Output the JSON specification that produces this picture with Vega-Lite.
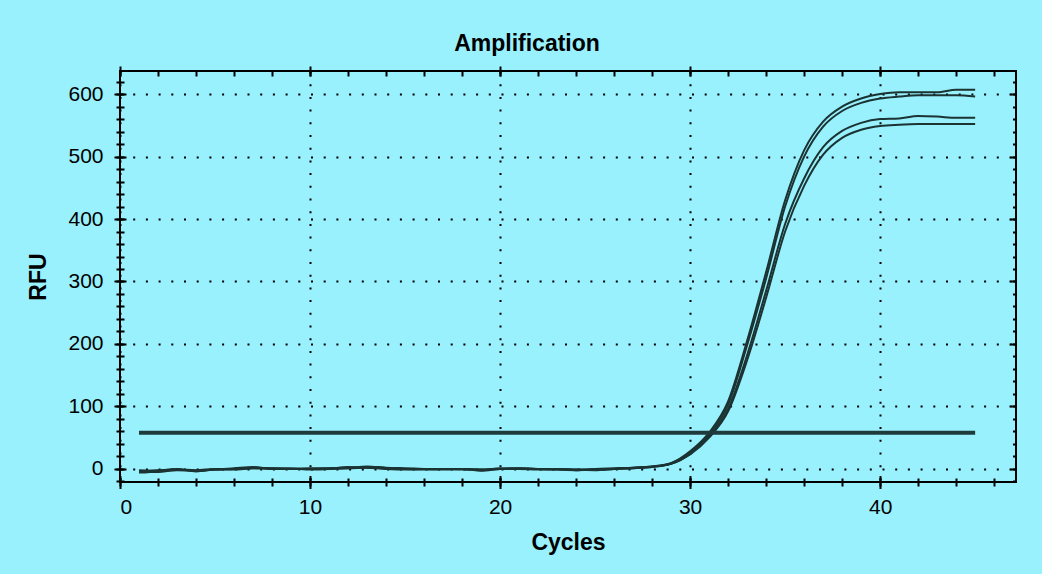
{
  "$schema": "https://vega.github.io/schema/vega-lite/v6.json",
  "autosize": {"type": "none"},
  "width": 896,
  "height": 411,
  "padding": {"left": 120, "top": 71, "right": 26, "bottom": 92},
  "background": "#98F1FD",
  "config": {
    "font": "Liberation Sans",
    "view": {"stroke": "#000000", "strokeWidth": 2, "fill": "#98F1FD"},
    "axis": {"domain": false, "tickColor": "#000000", "tickWidth": 2, "labelColor": "#000000", "titleColor": "#000000", "grid": false, "labels": false, "title": null}
  },
  "title": {"text": "Amplification", "font": "Liberation Sans", "fontSize": 23, "fontWeight": "bold", "color": "#000000", "anchor": "middle", "frame": "group", "dx": -41, "offset": 9},
  "datasets": {
    "curves": [
      {"c":1,"s":"A","v":-4},{"c":2,"s":"A","v":-2},{"c":3,"s":"A","v":-1},{"c":4,"s":"A","v":-3},{"c":5,"s":"A","v":-1},{"c":6,"s":"A","v":0},{"c":7,"s":"A","v":2},{"c":8,"s":"A","v":1},{"c":9,"s":"A","v":0},{"c":10,"s":"A","v":0},{"c":11,"s":"A","v":1},{"c":12,"s":"A","v":2},{"c":13,"s":"A","v":3},{"c":14,"s":"A","v":1},{"c":15,"s":"A","v":0},{"c":16,"s":"A","v":0},{"c":17,"s":"A","v":0},{"c":18,"s":"A","v":-1},{"c":19,"s":"A","v":-1},{"c":20,"s":"A","v":0},{"c":21,"s":"A","v":1},{"c":22,"s":"A","v":0},{"c":23,"s":"A","v":-1},{"c":24,"s":"A","v":-1},{"c":25,"s":"A","v":-1},{"c":26,"s":"A","v":0},{"c":27,"s":"A","v":1},{"c":28,"s":"A","v":3},{"c":29,"s":"A","v":9},{"c":30,"s":"A","v":28},{"c":31,"s":"A","v":58},{"c":32,"s":"A","v":108},{"c":33,"s":"A","v":205},{"c":34,"s":"A","v":315},{"c":35,"s":"A","v":430},{"c":36,"s":"A","v":510},{"c":37,"s":"A","v":556},{"c":38,"s":"A","v":580},{"c":39,"s":"A","v":593},{"c":40,"s":"A","v":600},{"c":41,"s":"A","v":603},{"c":42,"s":"A","v":603},{"c":43,"s":"A","v":603},{"c":44,"s":"A","v":607},{"c":45,"s":"A","v":607},
      {"c":1,"s":"B","v":-2},{"c":2,"s":"B","v":-3},{"c":3,"s":"B","v":0},{"c":4,"s":"B","v":-4},{"c":5,"s":"B","v":-1},{"c":6,"s":"B","v":1},{"c":7,"s":"B","v":3},{"c":8,"s":"B","v":0},{"c":9,"s":"B","v":0},{"c":10,"s":"B","v":1},{"c":11,"s":"B","v":0},{"c":12,"s":"B","v":1},{"c":13,"s":"B","v":4},{"c":14,"s":"B","v":2},{"c":15,"s":"B","v":1},{"c":16,"s":"B","v":0},{"c":17,"s":"B","v":-1},{"c":18,"s":"B","v":0},{"c":19,"s":"B","v":-2},{"c":20,"s":"B","v":1},{"c":21,"s":"B","v":0},{"c":22,"s":"B","v":0},{"c":23,"s":"B","v":-1},{"c":24,"s":"B","v":-2},{"c":25,"s":"B","v":0},{"c":26,"s":"B","v":1},{"c":27,"s":"B","v":2},{"c":28,"s":"B","v":4},{"c":29,"s":"B","v":9},{"c":30,"s":"B","v":26},{"c":31,"s":"B","v":55},{"c":32,"s":"B","v":103},{"c":33,"s":"B","v":198},{"c":34,"s":"B","v":305},{"c":35,"s":"B","v":420},{"c":36,"s":"B","v":500},{"c":37,"s":"B","v":548},{"c":38,"s":"B","v":573},{"c":39,"s":"B","v":586},{"c":40,"s":"B","v":593},{"c":41,"s":"B","v":596},{"c":42,"s":"B","v":598},{"c":43,"s":"B","v":598},{"c":44,"s":"B","v":598},{"c":45,"s":"B","v":596},
      {"c":1,"s":"C","v":-6},{"c":2,"s":"C","v":-4},{"c":3,"s":"C","v":-1},{"c":4,"s":"C","v":-2},{"c":5,"s":"C","v":0},{"c":6,"s":"C","v":0},{"c":7,"s":"C","v":1},{"c":8,"s":"C","v":0},{"c":9,"s":"C","v":1},{"c":10,"s":"C","v":-1},{"c":11,"s":"C","v":0},{"c":12,"s":"C","v":3},{"c":13,"s":"C","v":2},{"c":14,"s":"C","v":0},{"c":15,"s":"C","v":-1},{"c":16,"s":"C","v":0},{"c":17,"s":"C","v":0},{"c":18,"s":"C","v":0},{"c":19,"s":"C","v":-1},{"c":20,"s":"C","v":0},{"c":21,"s":"C","v":0},{"c":22,"s":"C","v":-1},{"c":23,"s":"C","v":0},{"c":24,"s":"C","v":-2},{"c":25,"s":"C","v":-1},{"c":26,"s":"C","v":0},{"c":27,"s":"C","v":2},{"c":28,"s":"C","v":4},{"c":29,"s":"C","v":8},{"c":30,"s":"C","v":24},{"c":31,"s":"C","v":52},{"c":32,"s":"C","v":96},{"c":33,"s":"C","v":182},{"c":34,"s":"C","v":285},{"c":35,"s":"C","v":392},{"c":36,"s":"C","v":465},{"c":37,"s":"C","v":515},{"c":38,"s":"C","v":541},{"c":39,"s":"C","v":554},{"c":40,"s":"C","v":560},{"c":41,"s":"C","v":561},{"c":42,"s":"C","v":565},{"c":43,"s":"C","v":564},{"c":44,"s":"C","v":562},{"c":45,"s":"C","v":562},
      {"c":1,"s":"D","v":-5},{"c":2,"s":"D","v":-5},{"c":3,"s":"D","v":-2},{"c":4,"s":"D","v":-3},{"c":5,"s":"D","v":-1},{"c":6,"s":"D","v":-1},{"c":7,"s":"D","v":1},{"c":8,"s":"D","v":1},{"c":9,"s":"D","v":0},{"c":10,"s":"D","v":0},{"c":11,"s":"D","v":1},{"c":12,"s":"D","v":1},{"c":13,"s":"D","v":2},{"c":14,"s":"D","v":1},{"c":15,"s":"D","v":0},{"c":16,"s":"D","v":-1},{"c":17,"s":"D","v":0},{"c":18,"s":"D","v":0},{"c":19,"s":"D","v":-3},{"c":20,"s":"D","v":0},{"c":21,"s":"D","v":1},{"c":22,"s":"D","v":0},{"c":23,"s":"D","v":0},{"c":24,"s":"D","v":-1},{"c":25,"s":"D","v":-2},{"c":26,"s":"D","v":0},{"c":27,"s":"D","v":1},{"c":28,"s":"D","v":3},{"c":29,"s":"D","v":8},{"c":30,"s":"D","v":23},{"c":31,"s":"D","v":50},{"c":32,"s":"D","v":92},{"c":33,"s":"D","v":174},{"c":34,"s":"D","v":274},{"c":35,"s":"D","v":380},{"c":36,"s":"D","v":453},{"c":37,"s":"D","v":503},{"c":38,"s":"D","v":530},{"c":39,"s":"D","v":543},{"c":40,"s":"D","v":549},{"c":41,"s":"D","v":551},{"c":42,"s":"D","v":552},{"c":43,"s":"D","v":552},{"c":44,"s":"D","v":552},{"c":45,"s":"D","v":552}
    ],
    "thr": [{"x1": 1, "x2": 45, "t": 58}]
  },
  "layer": [
    {
      "data": {"name": "curves"},
      "mark": {"type": "line", "interpolate": "monotone", "strokeWidth": 2, "color": "#1b3333"},
      "encoding": {
        "x": {"field": "c", "type": "quantitative",
          "scale": {"domain": [0, 47.15], "nice": false, "zero": false},
          "axis": {"orient": "bottom", "values": [0, 10, 20, 30, 40], "offset": -6.5, "tickSize": 13, "labels": true, "labelFontSize": 21, "labelPadding": 8, "labelFont": "Liberation Sans",
            "grid": true, "gridColor": "#000000", "gridDash": [2, 10.7], "gridWidth": 2,
            "title": "Cycles", "titleFontSize": 23, "titleFontWeight": "bold", "titlePadding": 14, "titleFont": "Liberation Sans"}},
        "y": {"field": "v", "type": "quantitative",
          "scale": {"domain": [-21, 637], "nice": false, "zero": false},
          "axis": {"orient": "left", "values": [0, 100, 200, 300, 400, 500, 600], "offset": -6, "tickSize": 12, "labels": true, "labelFontSize": 21, "labelPadding": 11, "labelFont": "Liberation Sans",
            "grid": true, "gridColor": "#000000", "gridDash": [2, 10.7], "gridWidth": 2,
            "title": "RFU", "titleFontSize": 23, "titleFontWeight": "bold", "titlePadding": 17, "titleFont": "Liberation Sans"}},
        "detail": {"field": "s", "type": "nominal"}
      }
    },
    {
      "data": {"name": "thr"},
      "mark": {"type": "rule", "strokeWidth": 4, "color": "#1e3a3a"},
      "encoding": {
        "x": {"field": "x1", "type": "quantitative",
          "axis": {"orient": "bottom", "values": [0,2,4,6,8,10,12,14,16,18,20,22,24,26,28,30,32,34,36,38,40,42,44,46], "offset": -4, "tickSize": 8}},
        "x2": {"field": "x2"},
        "y": {"field": "t", "type": "quantitative",
          "axis": {"orient": "left", "values": [-20,0,20,40,60,80,100,120,140,160,180,200,220,240,260,280,300,320,340,360,380,400,420,440,460,480,500,520,540,560,580,600,620], "offset": -4, "tickSize": 8}}
      }
    },
    {
      "data": {"name": "thr"},
      "mark": {"type": "rule", "opacity": 0},
      "encoding": {
        "x": {"field": "x1", "type": "quantitative",
          "axis": {"orient": "top", "values": [0,2,4,6,8,10,12,14,16,18,20,22,24,26,28,30,32,34,36,38,40,42,44,46], "offset": -5, "tickSize": 5}},
        "x2": {"field": "x2"},
        "y": {"field": "t", "type": "quantitative",
          "axis": {"orient": "right", "values": [-20,0,20,40,60,80,100,120,140,160,180,200,220,240,260,280,300,320,340,360,380,400,420,440,460,480,500,520,540,560,580,600,620], "offset": -3.5, "tickSize": 3.5}}
      }
    },
    {
      "data": {"name": "thr"},
      "mark": {"type": "rule", "opacity": 0},
      "encoding": {
        "x": {"field": "x1", "type": "quantitative",
          "axis": {"orient": "top", "values": [0, 10, 20, 30, 40], "offset": -5, "tickSize": 10}},
        "x2": {"field": "x2"},
        "y": {"field": "t", "type": "quantitative",
          "axis": {"orient": "right", "values": [0, 100, 200, 300, 400, 500, 600], "offset": -6, "tickSize": 6}}
      }
    }
  ],
  "resolve": {"axis": {"x": "independent", "y": "independent"}}
}
